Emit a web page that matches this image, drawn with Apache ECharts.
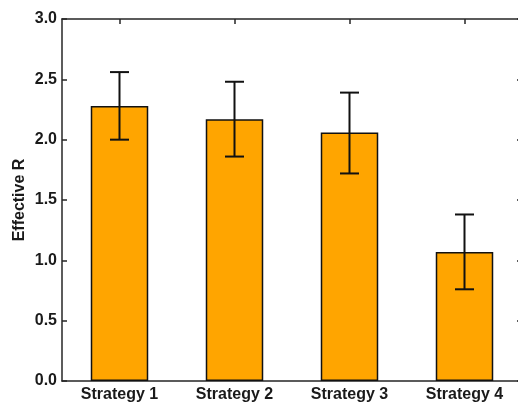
<!DOCTYPE html>
<html>
<head>
<meta charset="utf-8">
<script src="https://cdn.jsdelivr.net/npm/echarts@6/dist/echarts.min.js"></script>
<style>html,body{margin:0;padding:0;background:#fff;overflow:hidden;}#c{width:522px;height:405px;}</style>
</head>
<body>
<div id="c"></div>
<script>
const categories = ['Strategy 1', 'Strategy 2', 'Strategy 3', 'Strategy 4'];
const values = [2.28, 2.17, 2.06, 1.07];
const errLower = [2.00, 1.86, 1.72, 0.76];
const errUpper = [2.56, 2.48, 2.39, 1.38];
const yTicks = { min: 0, max: 3, interval: 0.5 };

const font = '"Liberation Sans", Arial, Helvetica, sans-serif';
const axisColor = '#262626';
const chart = echarts.init(document.getElementById('c'), null, { renderer: 'canvas' });

const errData = categories.map((c, i) => [i, errLower[i], errUpper[i]]);

chart.setOption({
  animation: false,
  backgroundColor: '#fff',
  grid: { left: 62, top: 19, right: 0, bottom: 24, containLabel: false, outerBoundsMode: 'none' },
  xAxis: [{
    type: 'category', data: categories, position: 'bottom',
    axisLine: { onZero: false, lineStyle: { color: axisColor, width: 1.5 } },
    axisTick: { show: true, inside: true, alignWithLabel: true, length: 5, lineStyle: { color: axisColor, width: 1.5 } },
    axisLabel: { color: '#1a1a1a', fontFamily: font, fontWeight: 'bold', fontSize: 16, margin: 6 },
    splitLine: { show: false }
  }, {
    type: 'category', data: categories, position: 'top',
    axisLine: { onZero: false, lineStyle: { color: axisColor, width: 1.5 } },
    axisTick: { show: true, inside: true, alignWithLabel: true, length: 5, lineStyle: { color: axisColor, width: 1.5 } },
    axisLabel: { show: false }
  }],
  yAxis: [{
    type: 'value', min: yTicks.min, max: yTicks.max, interval: yTicks.interval, position: 'left',
    name: 'Effective R', nameLocation: 'middle', nameGap: 34, nameRotate: 90, nameMoveOverlap: false,
    nameTextStyle: { color: '#1a1a1a', fontFamily: font, fontWeight: 'bold', fontSize: 16 },
    axisLine: { show: true, onZero: false, lineStyle: { color: axisColor, width: 1.5 } },
    axisTick: { show: true, inside: true, length: 5, lineStyle: { color: axisColor, width: 1.5 } },
    axisLabel: { color: '#1a1a1a', fontFamily: font, fontWeight: 'bold', fontSize: 16, margin: 5, formatter: v => v.toFixed(1) },
    splitLine: { show: false }
  }, {
    type: 'value', min: yTicks.min, max: yTicks.max, interval: yTicks.interval, position: 'right',
    axisLine: { show: true, onZero: false, lineStyle: { color: axisColor, width: 1.5 } },
    axisTick: { show: true, inside: true, length: 5, lineStyle: { color: axisColor, width: 1.5 } },
    axisLabel: { show: false },
    splitLine: { show: false }
  }],
  series: [{
    type: 'bar', data: values, barWidth: '50%',
    itemStyle: { color: '#FFA500', borderColor: '#111', borderWidth: 1.5 },
    z: 2
  }, {
    type: 'custom', data: errData, z: 5,
    renderItem: function (params, api) {
      const x = api.value(0);
      const lo = api.coord([x, api.value(1)]);
      const hi = api.coord([x, api.value(2)]);
      const half = 9.5;
      const style = { stroke: '#111', lineWidth: 2 };
      return {
        type: 'group',
        children: [
          { type: 'line', shape: { x1: lo[0], y1: lo[1], x2: hi[0], y2: hi[1] }, style: style },
          { type: 'line', shape: { x1: lo[0] - half, y1: lo[1], x2: lo[0] + half, y2: lo[1] }, style: style },
          { type: 'line', shape: { x1: hi[0] - half, y1: hi[1], x2: hi[0] + half, y2: hi[1] }, style: style }
        ]
      };
    }
  }]
});
</script>
</body>
</html>
